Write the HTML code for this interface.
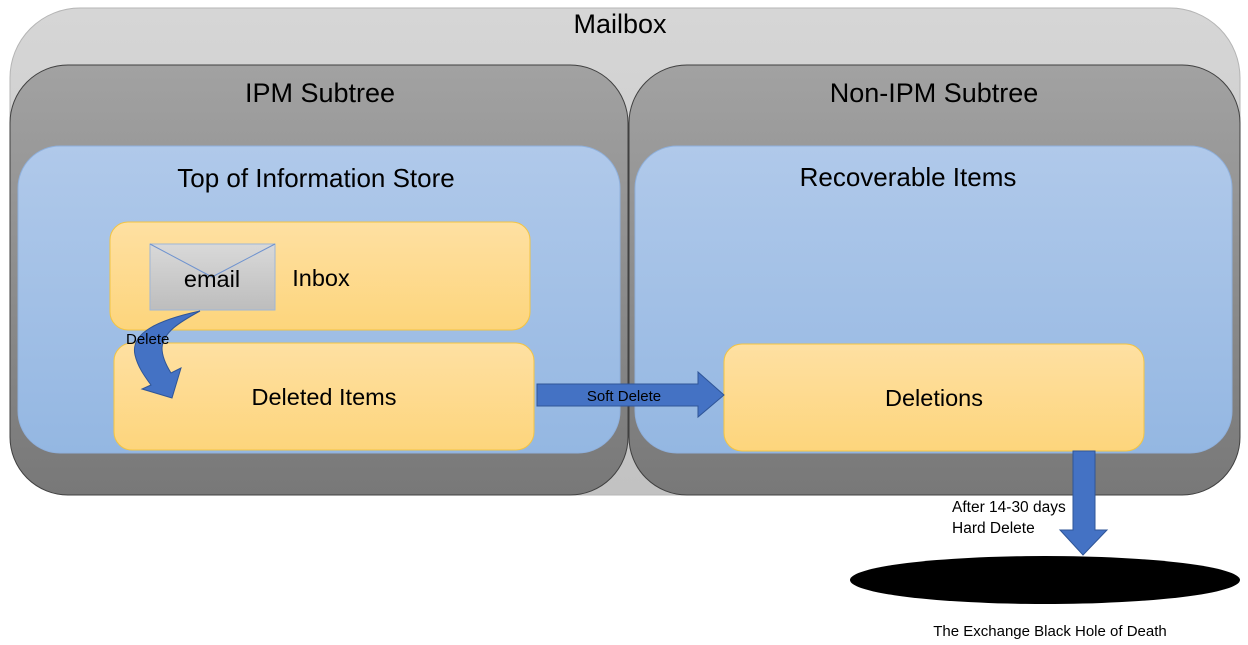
<!DOCTYPE html>
<html><head><meta charset="utf-8"><style>
html,body{margin:0;padding:0;background:#fff;width:1248px;height:645px;overflow:hidden}
svg{display:block}
text{font-family:"Liberation Sans",sans-serif;fill:#000}
</style></head><body>
<svg width="1248" height="645" viewBox="0 0 1248 645" xmlns="http://www.w3.org/2000/svg">
<defs>
<linearGradient id="mb" x1="0" y1="0" x2="0" y2="1"><stop offset="0" stop-color="#d6d6d6"/><stop offset="1" stop-color="#c2c2c2"/></linearGradient>
<linearGradient id="st" x1="0" y1="0" x2="0" y2="1"><stop offset="0" stop-color="#a2a2a2"/><stop offset="1" stop-color="#787878"/></linearGradient>
<linearGradient id="bl" x1="0" y1="0" x2="0" y2="1"><stop offset="0" stop-color="#b0c9ea"/><stop offset="1" stop-color="#94b7e2"/></linearGradient>
<linearGradient id="or" x1="0" y1="0" x2="0" y2="1"><stop offset="0" stop-color="#fee0a2"/><stop offset="1" stop-color="#fdd57c"/></linearGradient>
<linearGradient id="em" x1="0" y1="0" x2="0" y2="1"><stop offset="0" stop-color="#d9d9d9"/><stop offset="1" stop-color="#bdbdbd"/></linearGradient>
</defs>
<rect x="10" y="8" width="1230" height="487" rx="70" fill="url(#mb)" stroke="#b5b5b5" stroke-width="1"/>
<text x="620" y="33" font-size="27" text-anchor="middle">Mailbox</text>
<rect x="10" y="65" width="618" height="430" rx="58" fill="url(#st)" stroke="#404040" stroke-width="1"/>
<rect x="629" y="65" width="611" height="430" rx="58" fill="url(#st)" stroke="#404040" stroke-width="1"/>
<text x="320" y="102" font-size="27" text-anchor="middle">IPM Subtree</text>
<text x="934" y="102" font-size="27" text-anchor="middle">Non-IPM Subtree</text>
<rect x="18" y="146" width="602" height="307" rx="42" fill="url(#bl)" stroke="#8fb0dc" stroke-width="1"/>
<rect x="635" y="146" width="597" height="307" rx="42" fill="url(#bl)" stroke="#8fb0dc" stroke-width="1"/>
<text x="316" y="187" font-size="26" text-anchor="middle">Top of Information Store</text>
<text x="908" y="186" font-size="26" text-anchor="middle">Recoverable Items</text>
<rect x="110" y="222" width="420" height="108" rx="18" fill="url(#or)" stroke="#f2c443" stroke-width="1"/>
<rect x="114" y="343" width="420" height="107" rx="18" fill="url(#or)" stroke="#f2c443" stroke-width="1"/>
<rect x="724" y="344" width="420" height="107" rx="18" fill="url(#or)" stroke="#f2c443" stroke-width="1"/>
<text x="321" y="286" font-size="23.5" text-anchor="middle">Inbox</text>
<text x="324" y="405" font-size="23.5" text-anchor="middle">Deleted Items</text>
<text x="934" y="406" font-size="23.5" text-anchor="middle">Deletions</text>
<rect x="150" y="244" width="125" height="66" fill="url(#em)" stroke="#9fb6d6" stroke-width="1"/>
<polyline points="150,244 212,277 275,244" fill="none" stroke="#6f93cf" stroke-width="1"/>
<text x="212" y="287" font-size="23.5" text-anchor="middle">email</text>
<path d="M200,311 C158,320 130,333 135,355 C138,368 146,378 151,385 L142,389 L172,398 L181,368 L171,373 C166,365 162,356 162,348 C163,332 180,322 200,311 Z" fill="#4472c4" stroke="#2f5597" stroke-width="1"/>
<text x="126" y="344" font-size="15">Delete</text>
<path d="M537,384 L698,384 L698,372 L724,395 L698,417 L698,406 L537,406 Z" fill="#4472c4" stroke="#2f5597" stroke-width="1"/>
<text x="624" y="401" font-size="15" text-anchor="middle">Soft Delete</text>
<path d="M1073,451 L1095,451 L1095,530 L1107,530 L1083,555 L1060,530 L1073,530 Z" fill="#4472c4" stroke="#2f5597" stroke-width="1"/>
<text x="952" y="512" font-size="15.5">After 14-30 days</text>
<text x="952" y="533" font-size="15.5">Hard Delete</text>
<ellipse cx="1045" cy="580" rx="195" ry="24" fill="#000"/>
<text x="1050" y="636" font-size="15" text-anchor="middle">The Exchange Black Hole of Death</text>
</svg>
</body></html>
